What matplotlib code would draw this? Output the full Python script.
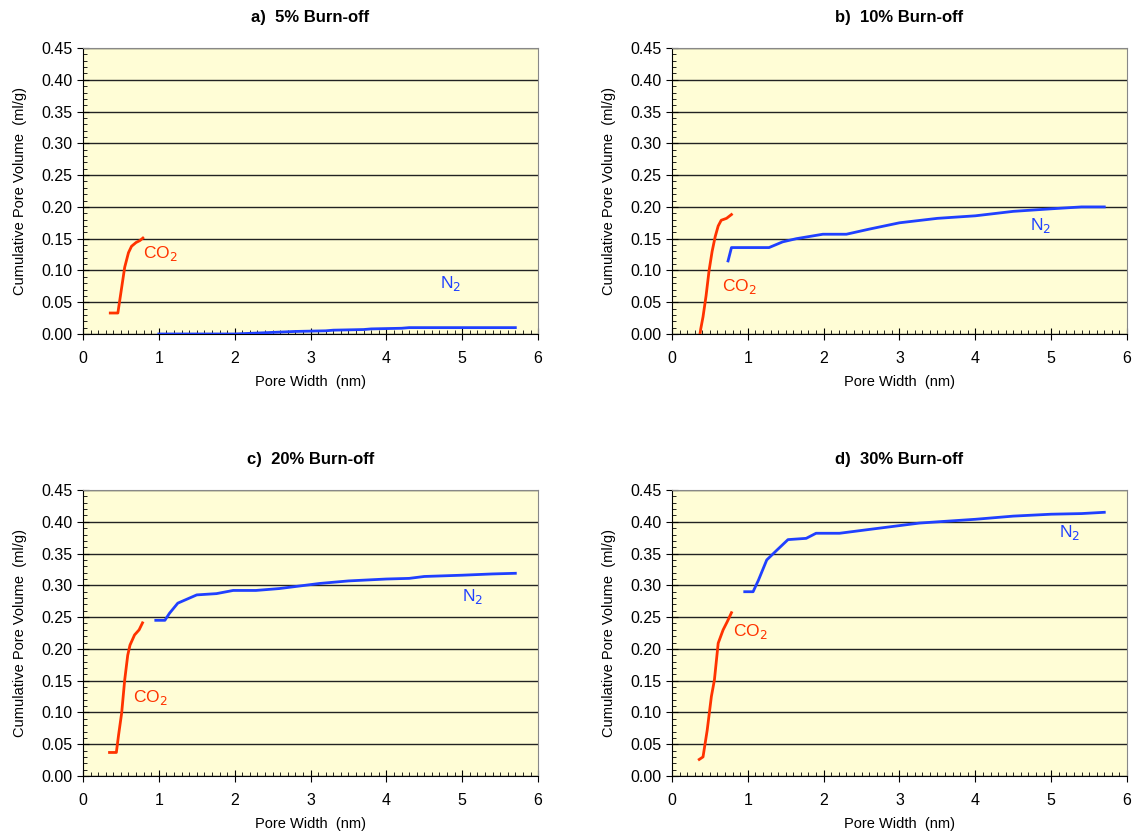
import matplotlib
matplotlib.use("Agg")
import matplotlib.pyplot as plt
from matplotlib.ticker import MultipleLocator

plt.rcParams['font.family'] = ['Liberation Sans', 'DejaVu Sans']

titles = ["a)  5% Burn-off", "b)  10% Burn-off", "c)  20% Burn-off", "d)  30% Burn-off"]

# CO2 curves (pore width nm, cumulative pore volume ml/g)
co2_x = [
    [0.36, 0.46, 0.50, 0.55, 0.60, 0.64, 0.70, 0.75, 0.79],
    [0.37, 0.38, 0.41, 0.45, 0.49, 0.53, 0.57, 0.61, 0.65, 0.72, 0.785],
    [0.35, 0.44, 0.47, 0.51, 0.55, 0.59, 0.62, 0.68, 0.74, 0.785],
    [0.36, 0.41, 0.465, 0.52, 0.56, 0.61, 0.675, 0.73, 0.785],
]
co2_y = [
    [0.033, 0.033, 0.065, 0.105, 0.128, 0.138, 0.144, 0.147, 0.151],
    [0.0, 0.008, 0.027, 0.060, 0.100, 0.130, 0.153, 0.170, 0.179, 0.182, 0.188],
    [0.037, 0.037, 0.065, 0.099, 0.151, 0.190, 0.206, 0.222, 0.230, 0.241],
    [0.026, 0.030, 0.072, 0.125, 0.151, 0.209, 0.230, 0.243, 0.257],
]

# N2 curves
n2_x = [
    [1.0, 2.0, 2.4, 2.8, 3.2, 3.3, 3.7, 3.8, 4.2, 4.3, 5.0, 5.7],
    [0.74, 0.785, 1.0, 1.28, 1.46, 1.64, 1.99, 2.3, 2.6, 3.0, 3.5, 4.0, 4.5, 5.0, 5.4, 5.7],
    [0.96, 1.08, 1.14, 1.25, 1.5, 1.76, 1.98, 2.28, 2.59, 3.12, 3.5, 4.0, 4.3, 4.5, 5.0, 5.4, 5.7],
    [0.96, 1.07, 1.14, 1.25, 1.38, 1.53, 1.77, 1.9, 2.21, 2.6, 3.26, 3.5, 4.0, 4.5, 5.0, 5.4, 5.7],
]
n2_y = [
    [0.0, 0.0, 0.002, 0.004, 0.005, 0.006, 0.007, 0.008, 0.009, 0.010, 0.010, 0.010],
    [0.115, 0.136, 0.136, 0.136, 0.145, 0.150, 0.157, 0.157, 0.165, 0.175, 0.182, 0.186, 0.193, 0.197, 0.200, 0.200],
    [0.245, 0.245, 0.256, 0.272, 0.285, 0.287, 0.292, 0.292, 0.295, 0.303, 0.307, 0.310, 0.311, 0.314, 0.316, 0.318, 0.319],
    [0.290, 0.290, 0.308, 0.340, 0.355, 0.372, 0.374, 0.382, 0.382, 0.388, 0.398, 0.400, 0.404, 0.409, 0.412, 0.413, 0.415],
]

# label positions
co2_lab = [(0.79, 0.126), (0.66, 0.074), (0.66, 0.124), (0.80, 0.227)]
n2_lab = [(4.71, 0.080), (4.72, 0.170), (5.0, 0.282), (5.1, 0.383)]

red = '#FF3300'
blue = '#2040FF'
bg = '#FFFDD6'

fig = plt.figure(figsize=(11.35, 8.36), dpi=100)
lefts = [0.0731, 0.592, 0.0731, 0.592]
bottoms = [0.6005, 0.6005, 0.0718, 0.0718]

for i in range(4):
    ax = fig.add_axes([lefts[i], bottoms[i], 0.401, 0.342])
    ax.set_facecolor(bg)
    ax.plot(co2_x[i], co2_y[i], color=red, lw=2.0, zorder=3)
    ax.plot(n2_x[i], n2_y[i], color=blue, lw=2.0, zorder=3)
    ax.text(co2_lab[i][0], co2_lab[i][1], 'CO$_2$', color=red, fontsize=12.5, va='center', ha='left')
    ax.text(n2_lab[i][0], n2_lab[i][1], 'N$_2$', color=blue, fontsize=12.5, va='center', ha='left')
    ax.set_xlim(0, 6)
    ax.set_ylim(0, 0.45)
    ax.xaxis.set_major_locator(MultipleLocator(1))
    ax.xaxis.set_minor_locator(MultipleLocator(0.1))
    ax.yaxis.set_major_locator(MultipleLocator(0.05))
    ax.yaxis.set_minor_locator(MultipleLocator(0.01))
    ax.yaxis.set_major_formatter(plt.FuncFormatter(lambda v, p: f"{v:.2f}"))
    ax.grid(axis='y', which='major', color='#222222', lw=1.0, zorder=1)
    ax.tick_params(axis='x', which='major', direction='inout', length=9, labelsize=11.5, pad=8)
    ax.tick_params(axis='x', which='minor', direction='in', length=3)
    ax.tick_params(axis='y', which='major', direction='inout', length=9, labelsize=11.5, pad=3)
    ax.tick_params(axis='y', which='minor', direction='in', length=3)
    ax.spines['top'].set_color('#888888')
    ax.spines['right'].set_color('#888888')
    ax.set_xlabel('Pore Width  (nm)', fontsize=10.5, labelpad=6)
    ax.set_ylabel('Cumulative Pore Volume  (ml/g)', fontsize=10.5, labelpad=10)
    ax.set_title(titles[i], fontsize=12, fontweight='bold', pad=19)

fig.savefig('out.png', dpi=100)
